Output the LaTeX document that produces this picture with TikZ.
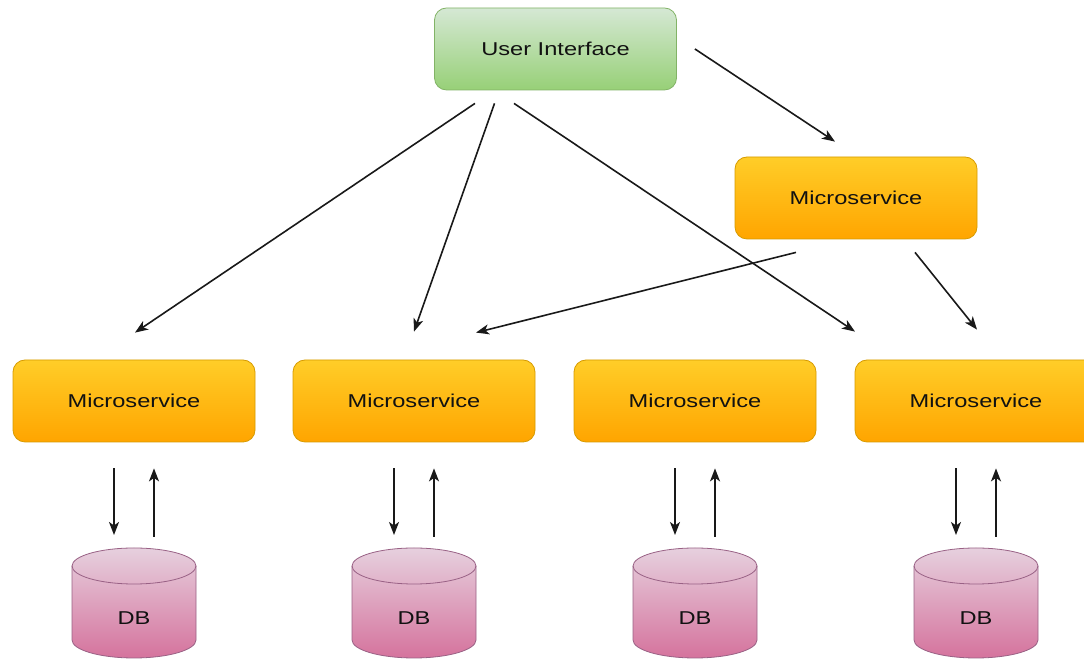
\documentclass[tikz,border=0pt]{standalone}
\usepackage{fontspec}
\setmainfont[FakeStretch=1.27]{Liberation Sans}
\usetikzlibrary{arrows.meta,calc}
\definecolor{gTop}{HTML}{D5E8D4}
\definecolor{gBot}{HTML}{97D077}
\definecolor{gLine}{HTML}{82B366}
\definecolor{oTop}{HTML}{FFCD28}
\definecolor{oBot}{HTML}{FFA500}
\definecolor{oLine}{HTML}{D79B00}
\definecolor{pTop}{HTML}{E6D0DE}
\definecolor{pBot}{HTML}{D5739D}
\definecolor{pLine}{HTML}{996185}
\definecolor{txt}{HTML}{111111}
\tikzset{
  box/.style={rectangle, rounded corners=12pt, minimum width=242pt, minimum height=82pt,
    inner sep=0pt, line width=0.8pt, text=txt, font=\fontsize{18.6}{22}\selectfont},
  uibox/.style={box, draw=gLine, top color=gTop, bottom color=gBot},
  msbox/.style={box, draw=oLine, top color=oTop, bottom color=oBot},
  dbshape/.style={draw=pLine, line width=0.8pt, top color=pTop, bottom color=pBot},
  dbtext/.style={inner sep=0pt, text=txt, font=\fontsize{18.6}{22}\selectfont},
  conn/.style={-{Stealth[length=13pt,width=10pt,inset=3.5pt]}, line width=1.6pt, draw=black!90}
}
\begin{document}
\begin{tikzpicture}[x=1pt,y=1pt]
\clip (0,0) rectangle (1084,660);
\fill[white] (0,0) rectangle (1084,660);

\node[uibox] (ui) at (555.5,611) {User Interface};
\node[msbox] (mst) at (856,462) {Microservice};
\node[msbox] (ms1) at (134,259) {Microservice};
\node[msbox] (ms2) at (414,259) {Microservice};
\node[msbox] (ms3) at (695,259) {Microservice};
\node[msbox] (ms4) at (976,259) {Microservice};

\foreach \i/\cx in {1/134,2/414,3/695,4/976}{
  \shade[dbshape] (\cx-62,94) -- (\cx-62,20) arc (180:360:62 and 18)
     -- (\cx+62,94) arc (0:180:62 and 18) -- cycle;
  \draw[pLine, line width=0.8pt] (\cx-62,94) arc (180:360:62 and 18);
  \coordinate (dbt\i) at (\cx,112);
  \node[dbtext] (db\i) at (\cx,42) {DB};
  \draw[conn] ($(ms\i.south)+(-20,-26)$) -- ($(dbt\i)+(-20,13)$);
  \draw[conn] ($(dbt\i)+(20,11)$) -- ($(ms\i.south)+(20,-26)$);
}

\draw[conn] ($(ui.east)+(18,0)$) -- ($(mst.north)+(-21,15)$);
\draw[conn] ($(ui.south)+(-80.5,-13)$) -- ($(ms1.north)+(1,27)$);
\draw[conn] ($(ui.south)+(-61,-13)$) -- ($(ms2.north)+(0,28)$);
\draw[conn] ($(ui.south)+(-41.5,-13)$) -- ($(ms3.north)+(160,28)$);
\draw[conn] ($(mst.south)+(-60,-13)$) -- ($(ms2.north)+(62,27)$);
\draw[conn] ($(mst.south)+(59,-13)$) -- ($(ms4.north)+(1,30)$);
\end{tikzpicture}
\end{document}
